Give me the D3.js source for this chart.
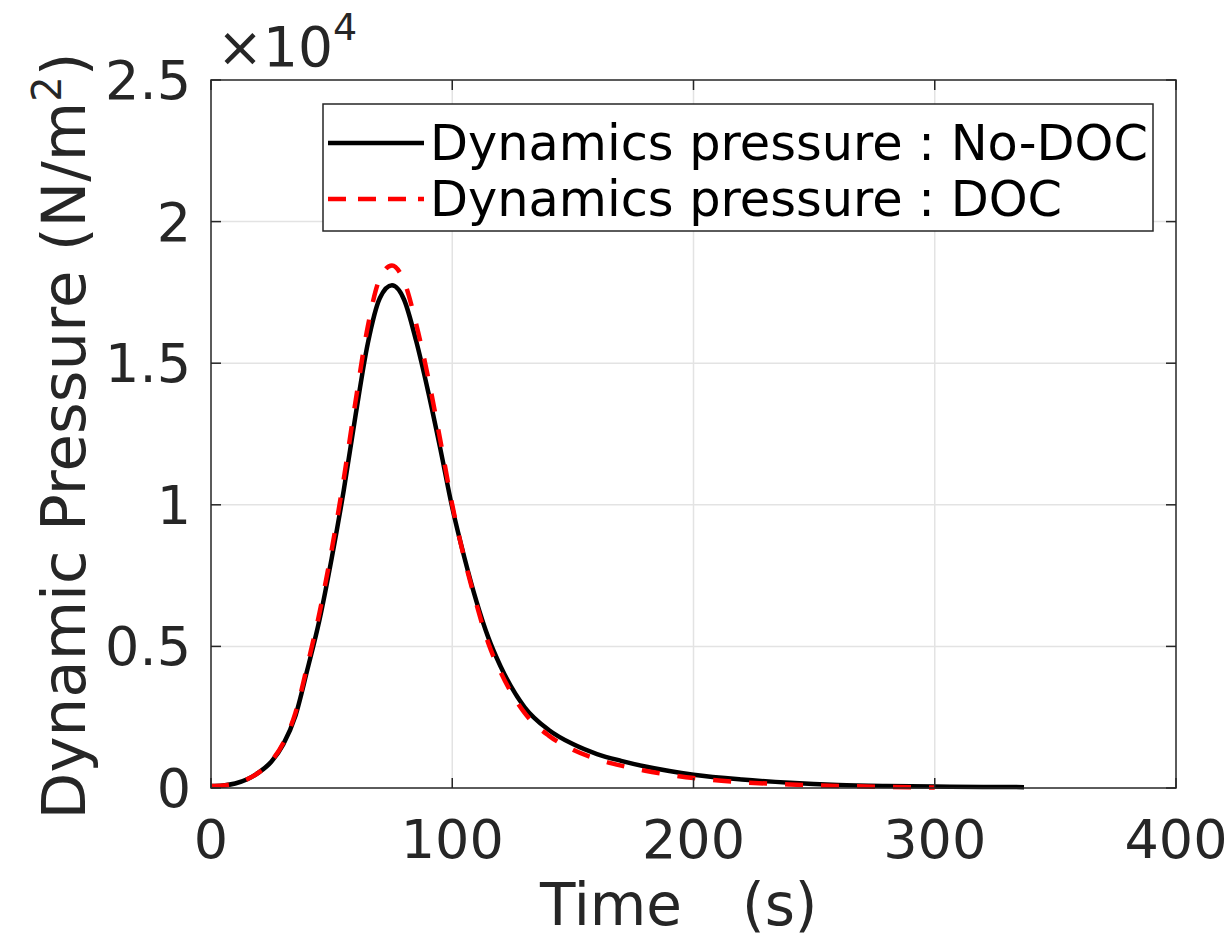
<!DOCTYPE html>
<html>
<head>
<meta charset="utf-8">
<script src="https://cdn.jsdelivr.net/npm/d3@7"></script>
<style>
  body { margin: 0; background: #fff; }
  text { font-family: "DejaVu Sans", sans-serif; fill: #262626; }
</style>
</head>
<body>
<div id="chart"></div>
<script>
// time samples (s)
const timeNoDoc = [0, 5, 10, 15, 20, 25, 30, 35, 40, 45, 50, 55, 60, 65, 70, 75, 80, 85, 90, 95, 100,
    105, 110, 115, 120, 130, 140, 150, 160, 170, 180, 190, 200, 220, 240, 260, 280, 300, 320, 337];
// dynamic pressure, No-DOC (N/m^2)
const pressureNoDoc = [70, 90, 160, 310, 560, 930, 1550, 2550, 4200, 5950, 8100, 10500, 13200, 15700, 17300, 17750, 17250, 15800, 14000, 12000, 9900,
    8150, 6600, 5300, 4300, 2850, 2050, 1550, 1200, 960, 760, 600, 470, 300, 185, 110, 72, 50, 38, 30];

const timeDoc = [0, 5, 10, 15, 20, 25, 30, 35, 40, 45, 50, 55, 60, 65, 70, 75, 80, 85, 90, 95, 100,
    105, 110, 115, 120, 130, 140, 150, 160, 170, 180, 190, 200, 220, 240, 260, 280, 300];
// dynamic pressure, DOC (N/m^2)
const pressureDoc = [70, 90, 160, 310, 560, 950, 1600, 2650, 4350, 6200, 8400, 10900, 13700, 16300, 18000, 18450, 17900, 16400, 14500, 12300, 10000,
    8100, 6500, 5100, 4100, 2650, 1850, 1350, 1020, 790, 610, 470, 350, 205, 122, 72, 40, 20];

const xTicks = [0, 100, 200, 300, 400];
const yTicks = [0, 5000, 10000, 15000, 20000, 25000];
const yTickLabels = ["0", "0.5", "1", "1.5", "2", "2.5"];

const seriesNames = ["Dynamics pressure : No-DOC", "Dynamics pressure : DOC"];

const W = 1232, H = 939;
const margin = {top: 80, right: 56, bottom: 151, left: 211};
const axisColor = "#262626";

const svg = d3.select("#chart").append("svg")
    .attr("width", W)
    .attr("height", H);

const x = d3.scaleLinear().domain([0, 400]).range([margin.left, W - margin.right]);
const y = d3.scaleLinear().domain([0, 25000]).range([H - margin.bottom, margin.top]);

// grid
svg.append("g").selectAll("line").data(xTicks.slice(1, -1)).enter().append("line")
    .attr("x1", d => x(d)).attr("x2", d => x(d))
    .attr("y1", y(0)).attr("y2", y(25000))
    .attr("stroke", "#e3e3e3").attr("stroke-width", 1.5);
svg.append("g").selectAll("line").data(yTicks.slice(1, -1)).enter().append("line")
    .attr("x1", x(0)).attr("x2", x(400))
    .attr("y1", d => y(d)).attr("y2", d => y(d))
    .attr("stroke", "#e3e3e3").attr("stroke-width", 1.5);

// curves
const line = d3.line()
    .x(d => x(d[0]))
    .y(d => y(d[1]))
    .curve(d3.curveMonotoneX);

svg.append("path")
    .datum(timeNoDoc.map((t, i) => [t, pressureNoDoc[i]]))
    .attr("d", line)
    .attr("fill", "none")
    .attr("stroke", "#000")
    .attr("stroke-width", 4.5);

svg.append("path")
    .datum(timeDoc.map((t, i) => [t, pressureDoc[i]]))
    .attr("d", line)
    .attr("fill", "none")
    .attr("stroke", "#ff0000")
    .attr("stroke-width", 4.5)
    .attr("stroke-dasharray", "18 18");

// box
svg.append("rect")
    .attr("x", x(0)).attr("y", y(25000))
    .attr("width", x(400) - x(0)).attr("height", y(0) - y(25000))
    .attr("fill", "none").attr("stroke", axisColor).attr("stroke-width", 1.5);

// ticks (inward, all four sides)
const tl = 10;
const tickG = svg.append("g").attr("stroke", axisColor).attr("stroke-width", 1.5);
xTicks.forEach(d => {
    tickG.append("line").attr("x1", x(d)).attr("x2", x(d)).attr("y1", y(0)).attr("y2", y(0) - tl);
    tickG.append("line").attr("x1", x(d)).attr("x2", x(d)).attr("y1", y(25000)).attr("y2", y(25000) + tl);
});
yTicks.forEach(d => {
    tickG.append("line").attr("x1", x(0)).attr("x2", x(0) + tl).attr("y1", y(d)).attr("y2", y(d));
    tickG.append("line").attr("x1", x(400)).attr("x2", x(400) - tl).attr("y1", y(d)).attr("y2", y(d));
});

// tick labels
svg.append("g").selectAll("text").data(xTicks).enter().append("text")
    .attr("x", d => x(d))
    .attr("y", y(0) + 70)
    .attr("text-anchor", "middle")
    .style("font-size", "54px")
    .text(d => d);

svg.append("g").selectAll("text").data(yTicks).enter().append("text")
    .attr("x", x(0) - 20)
    .attr("y", d => y(d) + 19)
    .attr("text-anchor", "end")
    .style("font-size", "54px")
    .text((d, i) => yTickLabels[i]);

// exponent
const expo = svg.append("text")
    .attr("x", x(0) + 6)
    .attr("y", 66)
    .style("font-size", "55px");
expo.append("tspan").text("\u00d710");
expo.append("tspan").attr("dy", -26).style("font-size", "38px").text("4");

// axis labels
const xl = svg.append("text")
    .attr("x", 540)
    .attr("y", 925)
    .style("font-size", "58px");
xl.append("tspan").text("Time");
xl.append("tspan").attr("x", 742).text("(s)");

const yl = svg.append("text")
    .attr("transform", `translate(85, 436) rotate(-90)`)
    .attr("text-anchor", "middle")
    .style("font-size", "61px");
yl.append("tspan").text("Dynamic Pressure (N/m");
yl.append("tspan").attr("dy", -24).style("font-size", "40px").text("2");
yl.append("tspan").attr("dy", 24).text(")");

// legend
const legend = svg.append("g");
legend.append("rect")
    .attr("x", 323).attr("y", 104)
    .attr("width", 830).attr("height", 127)
    .attr("fill", "#fff").attr("stroke", axisColor).attr("stroke-width", 1.5);

const legendItems = [
    {name: seriesNames[0], color: "#000", dash: null},
    {name: seriesNames[1], color: "#ff0000", dash: "18 12"}
];
legend.selectAll("g.item").data(legendItems).enter().append("g")
    .attr("class", "item")
    .attr("transform", (d, i) => `translate(0, ${143 + i * 56})`)
    .each(function (d) {
        const g = d3.select(this);
        g.append("line")
            .attr("x1", 328).attr("x2", 424)
            .attr("stroke", d.color).attr("stroke-width", 4.5)
            .attr("stroke-dasharray", d.dash);
        g.append("text")
            .attr("x", 430).attr("y", 17)
            .style("font-size", "49.4px")
            .style("fill", "#000")
            .text(d.name);
    });
</script>
</body>
</html>
